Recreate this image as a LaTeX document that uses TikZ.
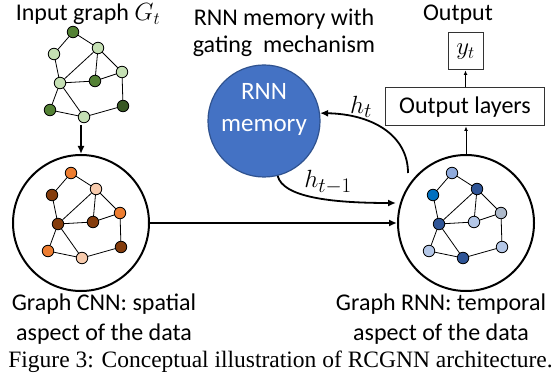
\documentclass[tikz,border=0pt]{standalone}
\usepackage{fontspec}
\setmainfont{Carlito}
\newfontfamily\capfont{Liberation Serif}
\usetikzlibrary{arrows.meta}
\definecolor{gdark}{HTML}{548235}
\definecolor{gdarker}{HTML}{385723}
\definecolor{glight}{HTML}{C5E0B4}
\definecolor{oorange}{HTML}{ED7D31}
\definecolor{obrown}{HTML}{843C0C}
\definecolor{opeach}{HTML}{F8CBAD}
\definecolor{blight}{HTML}{8FAADC}
\definecolor{bbright}{HTML}{0070C0}
\definecolor{bdark}{HTML}{2F5597}
\definecolor{bgrey}{HTML}{ADB9CA}
\definecolor{bpale}{HTML}{B4C7E7}
\definecolor{memfill}{HTML}{4472C4}
\definecolor{memdraw}{HTML}{2F528F}
\newcommand{\mygraph}[9]{%
  \node[gn,fill=#1] (\gp a) at (73,32) {};
  \node[gn,fill=#2] (\gp b) at (54,54) {};
  \node[gn,fill=#3] (\gp c) at (98,48) {};
  \node[gn,fill=#4] (\gp d) at (122,72) {};
  \node[gn,fill=#5] (\gp e) at (60,83) {};
  \node[gn,fill=#6] (\gp f) at (95,81) {};
  \node[gn,fill=#7] (\gp g) at (50,110) {};
  \node[gn,fill=#8] (\gp h) at (84,117) {};
  \node[gn,fill=#9] (\gp i) at (123,106) {};
  \draw[ge] (\gp a)--(\gp b) (\gp a)--(\gp c) (\gp b)--(\gp e) (\gp c)--(\gp e) (\gp c)--(\gp f)
            (\gp c)--(\gp d) (\gp d)--(\gp f) (\gp e)--(\gp f) (\gp e)--(\gp g) (\gp e)--(\gp h)
            (\gp g)--(\gp h) (\gp h)--(\gp i) (\gp i)--(\gp d);
}
\begin{document}
\begin{tikzpicture}[x=1pt,y=-1pt,
  gn/.style={circle,draw=black,line width=0.8pt,minimum size=11.5pt,inner sep=0pt},
  ge/.style={line width=0.8pt},
  bigc/.style={circle,draw=black,line width=2pt,minimum size=136pt,inner sep=0pt},
  lab/.style={font=\fontsize{24}{29}\selectfont,inner sep=0pt,anchor=base},
  mathlab/.style={font=\fontsize{28}{32}\selectfont,inner sep=0pt},
  thickarr/.style={line width=2pt,-{Latex[length=8pt,width=7pt]}},
  curvearr/.style={line width=1.8pt,-{Latex[length=8pt,width=7pt]}},
  thinarr/.style={line width=1pt,-{Latex[length=4.5pt,width=4pt]}},
  boxn/.style={draw=black!80,line width=1pt,inner sep=0pt,font=\fontsize{24}{29}\selectfont}]
\useasboundingbox (0,0) rectangle (559,379);
\fill[white] (0,0) rectangle (559,379);

% titles
\node[lab] (tin) at (88,21) {Input graph {\fontsize{27}{29}\selectfont$G_t$}};
\node[lab] (tmem1) at (284,26) {RNN memory with};
\node[lab] (tmem2) at (284,53) {gating\ \ mechanism};
\node[lab] (tout) at (458,21) {Output};

% input graph
\def\gp{in}
\mygraph{gdark}{glight}{glight}{glight}{glight}{gdark}{gdark}{glight}{gdarker}

% big circles
\node[bigc] (cnn) at (81,223) {};
\node[bigc] (rnn) at (466,223) {};
\begin{scope}[shift={(-2,141)}]
\def\gp{c}
\mygraph{oorange}{obrown}{opeach}{oorange}{obrown}{obrown}{oorange}{opeach}{obrown}
\end{scope}
\begin{scope}[shift={(379,141)}]
\def\gp{r}
\mygraph{blight}{bbright}{bdark}{bgrey}{bdark}{bpale}{bpale}{bdark}{bpale}
\end{scope}

% memory
\node[circle,fill=memfill,draw=memdraw,line width=1.2pt,minimum size=112pt,inner sep=0pt] (mem) at (264,121) {};
\node[lab,text=white,font=\fontsize{25}{30}\selectfont] (mem1) at (264,100) {RNN};
\node[lab,text=white,font=\fontsize{25}{30}\selectfont] (mem2) at (264,132) {memory};

% output boxes
\node[boxn,minimum width=159pt,minimum height=38pt] (ol) at (465,107) {Output layers};
\node[boxn,minimum width=35pt,minimum height=37pt,font=\fontsize{27}{30}\selectfont] (yt) at (465.5,51.5) {$y_t$};

% arrows
\coordinate (inarr) at (81,125);
\draw[thickarr] (inarr) -- (cnn.north);
\draw[thickarr] (cnn.east) -- (rnn.west);
\draw[thinarr] (rnn.north) -- (rnn.north |- ol.south);
\draw[thinarr] (ol.north -| yt.south) -- (yt.south);

\coordinate (hs) at (408,173);
\draw[curvearr] (hs) .. controls (408,135) and (372,114) .. (mem.8);
\coordinate (he) at (396,203);
\draw[curvearr] (mem.-76) .. controls (283,197) and (330,203) .. (he);
\node[mathlab] (ht) at (361,107) {$h_t$};
\node[mathlab] (htm) at (328,182) {$h_{t-1}$};

% bottom labels
\node[lab] (bl1) at (104,310) {Graph CNN: spatial};
\node[lab] (bl2) at (104,340) {aspect of the data};
\node[lab] (br1) at (441,310) {Graph RNN: temporal};
\node[lab] (br2) at (441,340) {aspect of the data};

% caption
\node[inner sep=0pt,anchor=base,font=\capfont\fontsize{23.5}{28}\selectfont] (cap) at (280.5,367) {Figure 3: Conceptual illustration of RCGNN architecture.};
\end{tikzpicture}
\end{document}
